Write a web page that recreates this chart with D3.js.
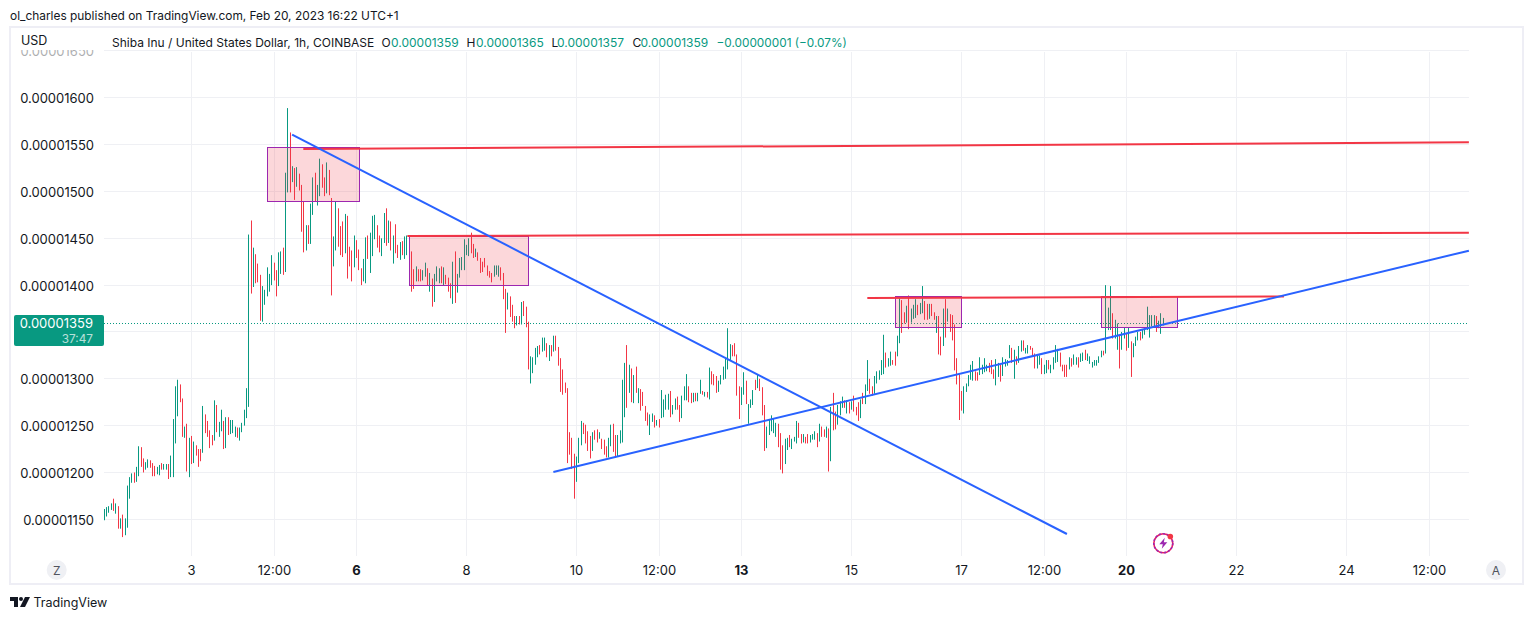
<!DOCTYPE html>
<html>
<head>
<meta charset="utf-8">
<title>SHIB/USD</title>
<script src="https://cdn.jsdelivr.net/npm/d3@7"></script>
<style>
  html, body { margin: 0; padding: 0; background: #fff; }
  svg { display: block; font-family: Inter, "Open Sans", sans-serif; }
</style>
</head>
<body>
<svg width="1533" height="619"></svg>
<script>
// prices are in units of 0.00000001 USD, one bar per hour, first bar is 38h before Feb 3
const firstHour = -38;
const highs = [
  1161,1163,1164,1167,1172,1167,1164,1151,1155,1151,
  1186,1195,1199,1200,1206,1228,1227,1215,1211,1214,
  1213,1210,1207,1206,1208,1210,1209,1209,1209,1218,
  1257,1292,1299,1294,1279,1249,1252,1237,1239,1233,
  1229,1225,1225,1271,1262,1255,1245,1240,1277,1272,
  1254,1267,1255,1259,1259,1256,1256,1249,1248,1248,
  1253,1267,1290,1454,1469,1440,1433,1423,1411,1399,
  1395,1419,1412,1432,1424,1416,1435,1436,1440,1520,
  1589,1563,1527,1525,1526,1519,1507,1489,1464,1464,
  1487,1515,1520,1507,1535,1529,1515,1531,1523,1493,
  1452,1489,1482,1463,1468,1476,1474,1441,1437,1453,
  1448,1438,1418,1428,1451,1453,1456,1474,1475,1464,
  1453,1450,1477,1482,1469,1468,1453,1465,1443,1446,
  1447,1452,1453,1452,1436,1417,1420,1417,1417,1416,
  1424,1418,1413,1407,1412,1420,1418,1420,1419,1411,
  1408,1402,1425,1436,1412,1429,1430,1449,1443,1450,
  1456,1444,1439,1435,1429,1425,1429,1421,1415,1413,
  1421,1421,1421,1419,1413,1396,1392,1388,1379,1367,
  1367,1367,1382,1383,1377,1361,1324,1323,1333,1335,
  1336,1344,1344,1338,1336,1336,1346,1346,1334,1322,
  1310,1296,1290,1243,1237,1220,1217,1237,1255,1253,
  1251,1244,1239,1243,1245,1246,1243,1236,1235,1228,
  1237,1251,1252,1240,1240,1245,1299,1317,1336,1315,
  1311,1304,1313,1290,1289,1286,1271,1264,1262,1263,
  1261,1256,1257,1288,1278,1283,1284,1287,1272,1279,
  1281,1272,1282,1292,1305,1292,1285,1285,1285,1285,
  1299,1287,1286,1286,1312,1308,1305,1303,1298,1304,
  1313,1322,1354,1337,1336,1338,1326,1292,1291,1307,
  1298,1273,1278,1288,1299,1305,1300,1291,1272,1249,
  1256,1261,1258,1253,1252,1242,1229,1236,1237,1240,
  1236,1238,1255,1253,1241,1241,1238,1241,1240,1241,
  1244,1242,1252,1249,1246,1249,1247,1270,1285,1265,
  1272,1276,1281,1277,1277,1275,1276,1282,1270,1275,
  1278,1285,1294,1320,1300,1292,1303,1308,1309,1320,
  1347,1328,1322,1329,1320,1329,1346,1388,1384,1371,
  1378,1389,1375,1379,1385,1379,1381,1399,1383,1380,
  1380,1380,1371,1367,1367,1345,1375,1385,1375,1369,
  1368,1358,1322,1305,1287,1292,1295,1304,1315,1319,
  1308,1307,1323,1315,1322,1315,1317,1320,1310,1321,
  1317,1315,1323,1321,1320,1336,1333,1331,1324,1335,
  1341,1341,1333,1336,1335,1333,1327,1325,1325,1322,
  1315,1320,1320,1315,1323,1336,1332,1328,1315,1315,
  1315,1323,1322,1326,1323,1323,1327,1328,1331,1327,
  1324,1318,1320,1320,1324,1330,1330,1400,1376,1399,
  1370,1363,1359,1347,1350,1355,1349,1355,1340,1338,
  1345,1350,1350,1353,1355,1377,1368,1368,1368,1367,
  1362,1370,1365
];
const lows = [
  1149,1153,1157,1160,1159,1156,1140,1140,1131,1133,
  1141,1172,1189,1189,1190,1196,1206,1200,1203,1205,
  1205,1196,1196,1198,1197,1203,1203,1203,1193,1195,
  1195,1231,1260,1275,1238,1237,1201,1195,1209,1210,
  1218,1206,1212,1221,1242,1238,1226,1229,1234,1243,
  1238,1244,1225,1226,1240,1241,1242,1238,1237,1234,
  1243,1250,1258,1270,1391,1398,1402,1403,1362,1361,
  1379,1388,1393,1400,1405,1388,1399,1412,1411,1414,
  1499,1499,1510,1491,1505,1501,1457,1435,1437,1444,
  1444,1475,1489,1485,1495,1504,1495,1498,1496,1389,
  1420,1437,1441,1432,1430,1434,1407,1420,1404,1419,
  1429,1416,1400,1404,1402,1428,1413,1431,1449,1440,
  1435,1431,1445,1442,1445,1437,1423,1434,1429,1427,
  1432,1428,1432,1430,1393,1396,1404,1404,1404,1405,
  1409,1400,1393,1377,1382,1404,1402,1402,1400,1401,
  1393,1386,1380,1381,1392,1408,1416,1416,1432,1431,
  1434,1429,1430,1426,1413,1414,1419,1410,1408,1403,
  1409,1411,1409,1405,1385,1349,1374,1366,1361,1354,
  1357,1358,1358,1367,1355,1310,1295,1306,1315,1323,
  1326,1329,1330,1323,1319,1324,1329,1330,1314,1286,
  1283,1285,1210,1219,1204,1172,1190,1210,1229,1241,
  1231,1223,1215,1223,1235,1232,1236,1225,1219,1216,
  1216,1228,1222,1216,1217,1231,1232,1259,1269,1285,
  1275,1274,1285,1274,1266,1271,1255,1250,1240,1254,
  1248,1250,1248,1258,1259,1267,1267,1259,1262,1267,
  1267,1254,1258,1277,1277,1275,1274,1275,1276,1276,
  1284,1283,1281,1280,1278,1294,1293,1285,1286,1294,
  1299,1300,1310,1320,1324,1324,1282,1257,1272,1283,
  1273,1252,1269,1272,1288,1290,1287,1261,1223,1226,
  1240,1244,1242,1238,1227,1203,1199,1209,1224,1227,
  1225,1233,1231,1237,1231,1232,1231,1231,1232,1235,
  1235,1227,1233,1238,1238,1237,1201,1212,1245,1246,
  1251,1261,1269,1269,1263,1263,1267,1265,1261,1255,
  1258,1273,1273,1287,1284,1282,1284,1295,1299,1304,
  1305,1312,1313,1314,1315,1314,1324,1338,1349,1359,
  1360,1353,1360,1364,1365,1368,1369,1370,1363,1363,
  1364,1367,1363,1349,1326,1325,1335,1344,1361,1350,
  1341,1309,1294,1256,1266,1263,1286,1292,1299,1298,
  1298,1298,1304,1305,1307,1308,1307,1305,1300,1293,
  1302,1297,1303,1313,1314,1322,1317,1300,1315,1317,
  1329,1330,1327,1327,1331,1324,1311,1311,1315,1305,
  1305,1306,1310,1306,1310,1317,1318,1313,1308,1302,
  1302,1310,1313,1315,1315,1312,1318,1319,1320,1319,
  1316,1312,1314,1314,1317,1323,1325,1327,1352,1352,
  1343,1343,1331,1311,1331,1343,1330,1333,1302,1323,
  1335,1341,1341,1343,1347,1352,1344,1356,1355,1350,
  1354,1348,1357
];
// G = closed up, R = closed down
const directions = [
  "GGGGRGRGRG","GGGRGGRRGG","RRRGGRGGRG","GGGRRGRGRG","RRRGRRRRGR",
  "GGRGRGGGRG","GGGGRGRRRG","GGGGRRGGRG","GRGRGRRRGR","GGRGGRRGRR",
  "GGRRRGRRRG","RRRGGRGGGR","RGGRGRGRRG","RGGRRRGRRG","GRGRGGGRGR",
  "RRGRGGGGGG","RRGRRRRRRR","GGGRRRGRRR","GRGRRRGGGG","RGGRGRGRRR",
  "RRRRRRGGGR","RRRGRRGRRR","GGRRGGGGRG","RGRGRRRRGG","RGRGGGGRGG",
  "RRGGGRRGRG","GRGRGRRRGG","GGGGRRRRGG","RGGGRGRRRG","GGGGRRRGGR",
  "GGGRRGRRGG","GRGRRGRGRR","GGGRGRGRRR","GRGGRRGGGG","GRGGRRGGRR",
  "GRGGGRGGRR","GRRGRRGRGR","RRRRRGGGGG","RRGGGGRRRG","GRGGGGRGRG",
  "GRGGRRRGGR","GGRGGGGRRR","RGRGGRGGRG","GGGGGGRGGG","RGGRGGRGRG",
  "GGRGGGGGGR","GGG"
].join("");

const priceTicks = [1150,1200,1250,1300,1350,1400,1450,1500,1550,1600,1650];
const timeTicks = [0,36,72,120,168,204,240,288,336,372,408,456,504,540];
const timeLabels = ["3","12:00","6","8","10","12:00","13","15","17","12:00","20","22","24","12:00"];
const boldLabels = ["6","13","20"];
const lastPrice = 1359;
const coveredTick = 1350; // its label sits under the price tag
const countdown = "37:47";

// drawings, [hour, price]
const zones = [
  [33.2,73.3,1547.2,1489.5],
  [95,147,1451.7,1399.8],
  [307.1,336.1,1388.1,1355],
  [397,430.2,1388.1,1355]
];
const blueLines = [
  [[43.9,1560.6],[382,1134.3]],
  [[157.9,1200.5],[557.4,1436.8]]
];
const redLines = [
  [[48.8,1545.3],[557.4,1552.5]],
  [[94.2,1452.5],[557.4,1456]],
  [[294.9,1386.3],[476.7,1387.9]]
];

const titleText = "ol_charles published on TradingView.com, Feb 20, 2023 16:22 UTC+1";
const symbolText = "Shiba Inu / United States Dollar, 1h, COINBASE";
const ohlcLabels = ["O","H","L","C"];
const ohlcValues = ["0.00001359","0.00001365","0.00001357","0.00001359"];
const changeText = "\u22120.00000001 (\u22120.07%)";

const green = "#089981", red = "#f23645", blue = "#2962ff", purple = "#9c27b0";
const grid = "#eff0f4", ink = "#131722";

const svg = d3.select("svg");
const paneLeft = 104, paneRight = 1469, paneTop = 52, paneBottom = 556;

const x = d3.scaleLinear().domain([0,540]).range([191.5,1429]);
const y = d3.scaleLinear().domain([1150,1600]).range([519.3,97.8]);
const fmt = p => (p/1e8).toFixed(8);

// frame
svg.append("rect").attr("x",10).attr("y",27).attr("width",1513).attr("height",557)
  .attr("fill","#fff").attr("stroke","#eeeef5").attr("stroke-width",2);

svg.append("text").attr("x",10).attr("y",19.5).attr("font-size",11.9).attr("fill",ink).text(titleText);

svg.append("clipPath").attr("id","pane").append("rect")
  .attr("x",-paneLeft).attr("y",50).attr("width",1533).attr("height",520);

// price axis, the ticks double as grid lines
const yAxisG = svg.append("g").attr("transform",`translate(${paneLeft},0)`)
  .attr("clip-path","url(#pane)")
  .call(d3.axisLeft(y).tickValues(priceTicks).tickFormat(fmt).tickSize(-(paneRight-paneLeft)).tickPadding(10));
yAxisG.select(".domain").remove();
yAxisG.selectAll(".tick").attr("transform",d => `translate(0,${Math.floor(y(d))+0.5})`);
yAxisG.selectAll("line").attr("stroke",grid);
yAxisG.selectAll("text").attr("font-family","Inter").attr("font-size",13).attr("fill",ink)
  .attr("dy","0.42em")
  .attr("opacity",d => d === 1650 ? 0.35 : 1);
yAxisG.selectAll("text").filter(d => d === coveredTick).remove();

// time axis
const xAxisG = svg.append("g").attr("transform",`translate(0,${paneBottom})`)
  .call(d3.axisBottom(x).tickValues(timeTicks).tickFormat((d,i) => timeLabels[i]).tickSize(-(paneBottom-paneTop)).tickPadding(10));
xAxisG.select(".domain").remove();
xAxisG.selectAll(".tick").attr("transform",d => `translate(${Math.floor(x(d))+0.5},0)`);
xAxisG.selectAll("line").attr("stroke",grid);
xAxisG.selectAll("text").attr("font-family","Inter").attr("font-size",13).attr("fill",ink)
  .attr("font-weight",(d,i) => boldLabels.includes(timeLabels[i]) ? 700 : 400);

// last price line
svg.append("line").attr("x1",paneLeft).attr("x2",paneRight).attr("y1",Math.floor(y(lastPrice))+0.5).attr("y2",Math.floor(y(lastPrice))+0.5)
  .attr("stroke",green).attr("stroke-dasharray","1 2");

// bars
svg.append("g").selectAll("line").data(highs).join("line")
  .attr("x1",(d,i) => Math.floor(x(firstHour+i))+0.5)
  .attr("x2",(d,i) => Math.floor(x(firstHour+i))+0.5)
  .attr("y1",d => y(d))
  .attr("y2",(d,i) => y(lows[i]))
  .attr("stroke",(d,i) => directions[i] === "G" ? green : red)
  .attr("stroke-width",1);

// rectangles
svg.append("g").selectAll("rect").data(zones).join("rect")
  .attr("x",d => Math.floor(x(d[0]))+0.5)
  .attr("y",d => Math.floor(y(d[2]))+0.5)
  .attr("width",d => Math.round(x(d[1])-x(d[0])))
  .attr("height",d => Math.round(y(d[3])-y(d[2])))
  .attr("fill",red).attr("fill-opacity",0.2)
  .attr("stroke",purple).attr("stroke-width",1);

// trend lines
const line = d3.line().x(d => x(d[0])).y(d => y(d[1]));
svg.append("g").selectAll("path").data(redLines).join("path")
  .attr("d",line).attr("fill","none").attr("stroke",red).attr("stroke-width",2);
svg.append("g").selectAll("path").data(blueLines).join("path")
  .attr("d",line).attr("fill","none").attr("stroke",blue).attr("stroke-width",2);

// legend
svg.append("text").attr("x",21).attr("y",45).attr("font-size",12.5).attr("fill",ink).text("USD");
const legendY = 47;
svg.append("text").attr("x",112).attr("y",legendY).attr("font-size",12).attr("fill",ink).text(symbolText);
const labelX = [381.5,466.5,551.5,632.5], valueX = [391,476,557,640.5];
ohlcLabels.forEach((l,i) => {
  svg.append("text").attr("x",labelX[i]).attr("y",legendY).attr("font-size",12).attr("fill",ink).text(l);
  svg.append("text").attr("x",valueX[i]).attr("y",legendY).attr("font-size",12).attr("fill",green).text(ohlcValues[i]);
});
svg.append("text").attr("x",716.5).attr("y",legendY).attr("font-size",11.8).attr("fill",green).text(changeText);

// price tag
svg.append("rect").attr("x",14).attr("y",315).attr("width",90).attr("height",31).attr("rx",2).attr("fill",green);
svg.append("text").attr("x",93).attr("y",328).attr("text-anchor","end").attr("font-size",13).attr("fill","#fff").text(fmt(lastPrice));
svg.append("text").attr("x",93).attr("y",342.5).attr("text-anchor","end").attr("font-size",11.8).attr("fill","#fff").attr("opacity",0.7).text(countdown);

// Z and A buttons
[[56.7,"Z"],[1496,"A"]].forEach(b => {
  svg.append("circle").attr("cx",b[0]).attr("cy",570).attr("r",10).attr("fill",grid);
  svg.append("text").attr("x",b[0]).attr("y",574.5).attr("text-anchor","middle").attr("font-size",12).attr("fill","#50535e").text(b[1]);
});

// news flash icon
const icon = svg.append("g").attr("transform","translate(1163.3,543.3)");
icon.append("circle").attr("r",9.5).attr("fill","#fff").attr("stroke","#e91e63").attr("stroke-width",1.6);
icon.append("circle").attr("r",9.5).attr("fill","none").attr("stroke",purple).attr("stroke-width",1.6).attr("stroke-dasharray","2 2");
icon.append("path").attr("d","M1.5,-5.5 L-4,1 L-0.5,1 L-1.5,5.5 L4,-1 L0.5,-1 Z").attr("fill",purple);
icon.append("circle").attr("cx",7).attr("cy",-6.8).attr("r",2.8).attr("fill",red);

// logo
const logo = svg.append("g").attr("transform","translate(10,597)").attr("fill",ink);
logo.append("path").attr("d","M0,0 H8 V10 H4 V4 H0 Z");
logo.append("circle").attr("cx",11).attr("cy",2).attr("r",2);
logo.append("path").attr("d","M15,0 H20 L15,10 H10 Z");
svg.append("text").attr("x",33.5).attr("y",607).attr("font-size",12.5).attr("fill",ink).text("TradingView");
</script>
</body>
</html>
